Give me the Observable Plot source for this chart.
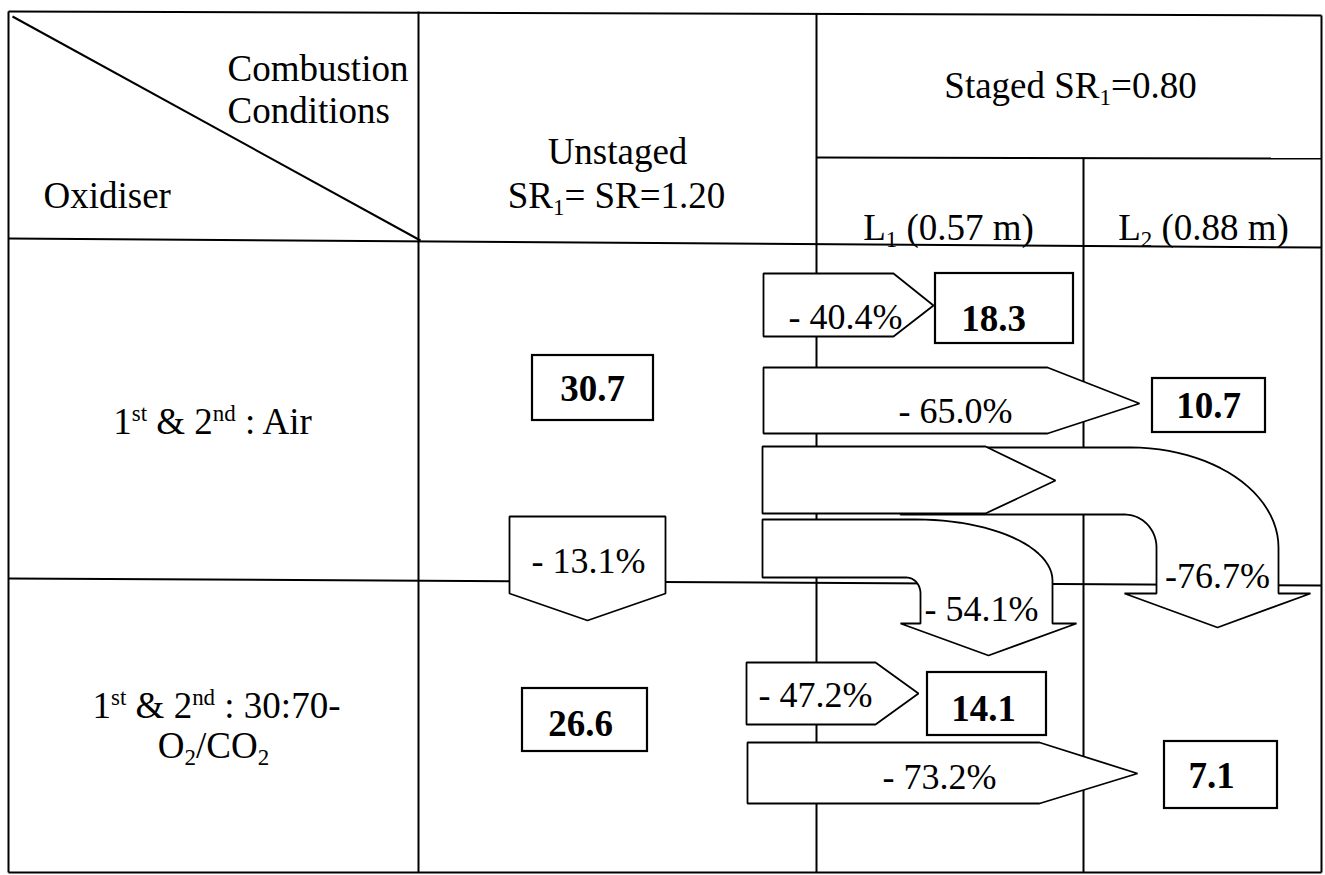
<!DOCTYPE html>
<html><head><meta charset="utf-8">
<script src="https://cdn.jsdelivr.net/npm/d3@7"></script>
<script src="https://cdn.jsdelivr.net/npm/@observablehq/plot@0.6"></script>
<style>html,body{margin:0;padding:0;background:#fff}#chart svg{display:block}</style>
</head><body><div id="chart"></div>
<script>
// ---------------- data ----------------
const cornerLabels = ["Combustion", "Conditions", "Oxidiser"];
const unstagedHeader = ["Unstaged", "SR_{1}= SR=1.20"];
const stagedHeader = "Staged SR_{1}=0.80";
const stagedSubHeaders = ["L_{1} (0.57 m)", "L_{2} (0.88 m)"];
const oxidiserAir = ["1^{st} & 2^{nd} : Air"];
const oxidiserOxy = ["1^{st} & 2^{nd} : 30:70-", "O_{2}/CO_{2}"];
const unstagedValues = ["30.7", "26.6"];   // Air, O2/CO2
const stagedL1Values = ["18.3", "14.1"];
const stagedL2Values = ["10.7", "7.1"];
const changeLabels = ["- 40.4%", "- 65.0%", "-76.7%", "- 54.1%", "- 13.1%", "- 47.2%", "- 73.2%"];

// ---------------- layout (pixel geometry of the table diagram) ----------------
const colX = {left: 8, c1: 418, c2: 816, c3: 1083, right: 1321};
const rowY = {top: 11, topR: 15, sub: 157, head: 238, headR: 247, split: 578, splitR: 585, bottom: 872};
const gridLines = [
  [colX.left, rowY.top, colX.right, rowY.topR],
  [colX.left, rowY.bottom, colX.right, rowY.bottom],
  [colX.left, rowY.top, colX.left, rowY.bottom],
  [colX.right, rowY.topR, colX.right, rowY.bottom],
  [colX.c1, rowY.top, colX.c1, rowY.bottom],
  [colX.c2, rowY.top + 2, colX.c2, rowY.bottom],
  [colX.c2, rowY.sub, colX.right, rowY.sub + 1],
  [colX.c3, rowY.sub, colX.c3, rowY.bottom],
  [colX.left, rowY.head, colX.right, rowY.headR],
  [colX.left, rowY.split, colX.right, rowY.splitR],
  [colX.left + 4, rowY.top + 5, colX.c1 + 2, rowY.head + 2]
].map(([x1, y1, x2, y2]) => ({x1, y1, x2, y2}));

function pentagonRight(x0, xs, xt, y0, y1, ym) {
  return [[x0, y0], [xs, y0], [xt, ym], [xs, y1], [x0, y1]];
}
function arcPts(cx, cy, rx, ry, a0, a1, n = 24) {
  const out = [];
  for (let i = 0; i <= n; i++) {
    const a = a0 + (a1 - a0) * i / n;
    out.push([cx + rx * Math.cos(a), cy + ry * Math.sin(a)]);
  }
  return out;
}
function bentArrow(g) {
  const tipX = (g.headL + g.headR) / 2;
  return [
    [g.x0, g.yTop],
    ...arcPts(g.ocx, g.ocy, g.xOut - g.ocx, g.ocy - g.yTop, -Math.PI / 2, 0),
    [g.xOut, g.yHead], [g.headR, g.yHead], [tipX, g.tipY], [g.headL, g.yHead], [g.xIn, g.yHead],
    ...arcPts(g.icx, g.icy, g.xIn - g.icx, g.icy - g.yBot, 0, -Math.PI / 2),
    [g.x0, g.yBot]
  ];
}

// arrows carrying the percentage changes
const arrows = [
  {label: changeLabels[2], shape: bentArrow({x0: 900, yTop: 447, yBot: 514, ocx: 1130, ocy: 547, xOut: 1278, icx: 1124, icy: 547, xIn: 1156, yHead: 593, headL: 1124, headR: 1310, tipY: 627}), tx: 1217, ty: 587},
  {label: changeLabels[3], shape: bentArrow({x0: 762, yTop: 519, yBot: 577, ocx: 916, ocy: 580, xOut: 1052, icx: 906, icy: 593, xIn: 920, yHead: 623, headL: 900, headR: 1076, tipY: 655}), tx: 981, ty: 620},
  {label: null, shape: pentagonRight(762, 985, 1055, 446, 513, 480)},
  {label: changeLabels[0], shape: pentagonRight(763, 893, 933, 273, 336, 305), tx: 845, ty: 328},
  {label: changeLabels[1], shape: pentagonRight(763, 1047, 1139, 367, 433, 403), tx: 955, ty: 422},
  {label: changeLabels[4], shape: [[509, 516], [665, 516], [665, 593], [587, 620], [509, 593]], tx: 588, ty: 572},
  {label: changeLabels[5], shape: pentagonRight(746, 875, 918, 662, 724, 693), tx: 815, ty: 706},
  {label: changeLabels[6], shape: pentagonRight(747, 1039, 1137, 742, 803, 773), tx: 939, ty: 788}
];
const arrowPts = arrows.flatMap((a, i) => a.shape.map(([x, y]) => ({id: i, x, y})));
const arrowText = arrows.filter(a => a.label);

// boxed values
const valueBoxes = [
  {v: unstagedValues[0], x1: 532, x2: 653, y1: 355, y2: 420, tx: 592, ty: 400},
  {v: unstagedValues[1], x1: 522, x2: 647, y1: 688, y2: 751, tx: 580, ty: 735},
  {v: stagedL1Values[0], x1: 935, x2: 1073, y1: 273, y2: 343, tx: 993, ty: 330},
  {v: stagedL1Values[1], x1: 927, x2: 1046, y1: 672, y2: 735, tx: 983, ty: 720},
  {v: stagedL2Values[0], x1: 1152, x2: 1265, y1: 378, y2: 432, tx: 1208, ty: 417},
  {v: stagedL2Values[1], x1: 1164, x2: 1277, y1: 741, y2: 808, tx: 1211, ty: 787}
];

// header / row label texts
const startTexts = [
  {t: cornerLabels[0], x: 227, y: 80},
  {t: cornerLabels[1], x: 227, y: 122},
  {t: cornerLabels[2], x: 43, y: 207}
];
const midTexts = [
  {t: unstagedHeader[0], x: 617, y: 163},
  {t: unstagedHeader[1], x: 616, y: 207},
  {t: stagedHeader, x: 1070, y: 97},
  {t: stagedSubHeaders[0], x: 948, y: 239},
  {t: stagedSubHeaders[1], x: 1203, y: 239},
  {t: oxidiserAir[0], x: 212, y: 433},
  {t: oxidiserOxy[0], x: 216, y: 717},
  {t: oxidiserOxy[1], x: 213, y: 757}
];

const FONT = "Liberation Serif, Times New Roman, serif";

const chart = Plot.plot({
  width: 1325,
  height: 875,
  margin: 0,
  x: {type: "identity", axis: null},
  y: {type: "identity", axis: null},
  style: {background: "white", fontFamily: FONT, color: "black"},
  marks: [
    Plot.link(gridLines, {x1: "x1", y1: "y1", x2: "x2", y2: "y2", stroke: "black", strokeWidth: 2}),
    Plot.line(arrowPts, {x: "x", y: "y", z: "id", curve: "linear-closed", fill: "white", stroke: "black", strokeWidth: 1.8, strokeLinejoin: "miter"}),
    Plot.text(arrowText, {x: "tx", y: "ty", text: "label", fontSize: 36, lineAnchor: "bottom", fill: "black", fontFamily: FONT}),
    Plot.rect(valueBoxes, {x1: "x1", x2: "x2", y1: "y1", y2: "y2", fill: "white", stroke: "black", strokeWidth: 2.2}),
    Plot.text(valueBoxes, {x: "tx", y: "ty", text: "v", fontSize: 37, fontWeight: "bold", lineAnchor: "bottom", fill: "black", fontFamily: FONT}),
    Plot.text(startTexts, {x: "x", y: "y", text: "t", fontSize: 37, textAnchor: "start", lineAnchor: "bottom", fill: "black", fontFamily: FONT}),
    Plot.text(midTexts, {x: "x", y: "y", text: "t", fontSize: 37, lineAnchor: "bottom", fill: "black", fontFamily: FONT})
  ]
});

// turn ^{..} / _{..} markers into real superscript / subscript tspans
function richify(svg) {
  svg.querySelectorAll("text").forEach(el => {
    if (el.children.length) return;
    const s = el.textContent;
    if (!/[_^]\{/.test(s)) return;
    el.textContent = "";
    let shift = 0;
    const re = /([_^])\{([^}]*)\}|([^_^]+)/g;
    let m;
    while ((m = re.exec(s))) {
      const t = document.createElementNS("http://www.w3.org/2000/svg", "tspan");
      let target = 0, txt;
      if (m[1]) {
        target = m[1] === "^" ? -13 : 7;
        txt = m[2];
        t.setAttribute("font-size", "0.62em");
      } else txt = m[3];
      if (target !== shift) { t.setAttribute("dy", target - shift); shift = target; }
      t.textContent = txt;
      el.appendChild(t);
    }
  });
}
richify(chart);
document.getElementById("chart").appendChild(chart);
</script>
</body></html>
